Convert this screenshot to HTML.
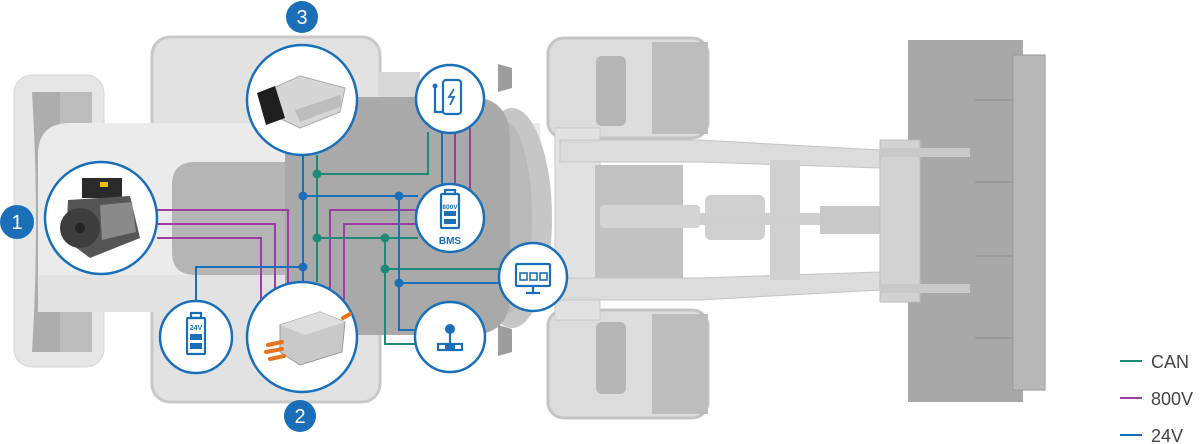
<!DOCTYPE html>
<html><head><meta charset="utf-8"><style>
html,body{margin:0;padding:0;background:#fff;}
svg{display:block;}
text{font-family:"Liberation Sans",sans-serif;}
</style></head><body>
<svg width="1200" height="444" viewBox="0 0 1200 444" xmlns="http://www.w3.org/2000/svg">
<!-- counterweight -->
<rect x="14" y="75" width="90" height="292" rx="18" fill="#e6e6e6" stroke="#d6d6d6"/>
<path d="M32 92 H92 V352 H32 Q40 222 32 92Z" fill="#adadad"/>
<rect x="60" y="92" width="32" height="260" fill="#bcbcbc"/>
<!-- fenders -->
<rect x="152" y="37" width="228" height="110" rx="18" fill="#e2e2e2" stroke="#c8c8c8" stroke-width="3"/>
<rect x="152" y="290" width="228" height="112" rx="18" fill="#e2e2e2" stroke="#c8c8c8" stroke-width="3"/>
<rect x="378" y="72" width="42" height="30" fill="#d8d8d8"/>
<!-- body -->
<path d="M70 123 H540 V312 H70 Q38 312 38 280 V155 Q38 123 70 123Z" fill="#ebebeb"/>
<rect x="38" y="275" width="320" height="37" fill="#e2e2e2"/>
<ellipse cx="512" cy="218" rx="40" ry="110" fill="#c6c6c6"/>
<ellipse cx="505" cy="218" rx="27" ry="96" fill="#b9b9b9"/>
<!-- cab -->
<path d="M285 97 H470 Q510 97 510 140 V295 Q510 335 470 335 H285Z" fill="#a9a9a9"/>
<path d="M195 162 H285 V275 H195 Q172 275 172 252 V185 Q172 162 195 162Z" fill="#b5b5b5"/>
<path d="M498 64 L512 68 L512 88 L498 92Z" fill="#9d9d9d"/>
<path d="M498 325 L512 329 L512 352 L498 356Z" fill="#9d9d9d"/>
<!-- front frame -->
<rect x="548" y="38" width="160" height="100" rx="16" fill="#dcdcdc" stroke="#c4c4c4" stroke-width="3"/>
<rect x="548" y="310" width="160" height="108" rx="16" fill="#dcdcdc" stroke="#c4c4c4" stroke-width="3"/>
<rect x="652" y="42" width="56" height="92" fill="#bdbdbd"/>
<rect x="652" y="314" width="56" height="100" fill="#bdbdbd"/>
<rect x="596" y="56" width="30" height="70" rx="6" fill="#b6b6b6"/>
<rect x="596" y="322" width="30" height="72" rx="6" fill="#b6b6b6"/>
<rect x="555" y="128" width="45" height="192" fill="#e2e2e2" stroke="#c9c9c9"/>
<rect x="595" y="165" width="88" height="120" fill="#c2c2c2"/>
<rect x="600" y="205" width="100" height="23" rx="4" fill="#d4d4d4"/>
<path d="M560 140 H700 L880 150 V168 L700 162 H560Z" fill="#dcdcdc" stroke="#c4c4c4"/>
<path d="M560 278 H700 L880 272 V290 L700 300 H560Z" fill="#dcdcdc" stroke="#c4c4c4"/>
<rect x="770" y="160" width="30" height="120" fill="#d0d0d0"/>
<rect x="705" y="195" width="60" height="45" rx="6" fill="#d0d0d0"/>
<rect x="700" y="213" width="195" height="12" fill="#cfcfcf"/>
<rect x="820" y="206" width="60" height="28" fill="#c8c8c8"/>
<!-- bucket -->
<rect x="908" y="40" width="115" height="362" fill="#a8a8a8"/>
<rect x="1013" y="55" width="32" height="335" fill="#b8b8b8" stroke="#9a9a9a"/>
<g stroke="#9a9a9a" stroke-width="2"><line x1="975" y1="100" x2="1013" y2="100"/><line x1="975" y1="182" x2="1013" y2="182"/><line x1="975" y1="256" x2="1013" y2="256"/><line x1="975" y1="338" x2="1013" y2="338"/></g>
<rect x="880" y="140" width="40" height="162" fill="#d2d2d2" stroke="#bcbcbc"/>
<rect x="880" y="148" width="90" height="9" fill="#c9c9c9"/>
<rect x="880" y="284" width="90" height="9" fill="#c9c9c9"/>
<!-- connectors -->
<g fill="none" stroke-width="2">
<g stroke="#9a3ea3">
<path d="M157 210 H288 V300"/><path d="M157 224 H275 V300"/><path d="M157 238 H261 V310"/>
<path d="M418 210 H330 V300"/><path d="M418 224 H344 V300"/>
<path d="M455 133 V186"/><path d="M470 128 V190"/>
</g>
<g stroke="#1f8a78">
<path d="M317 155 V282"/><path d="M317 174 H428 V132"/>
<path d="M317 238 H418"/><path d="M385 238 V344 H418"/><path d="M385 269 H499"/>
</g>
<g stroke="#1a6fb8">
<path d="M303 155 V282"/><path d="M442 133 V186"/>
<path d="M303 196 H418"/><path d="M399 196 V330 H418"/><path d="M399 283 H499"/>
<path d="M303 267 H196 V302"/>
</g>
</g>
<g fill="#1f8a78"><circle cx="317" cy="174" r="4.5"/><circle cx="317" cy="238" r="4.5"/><circle cx="385" cy="238" r="4.5"/><circle cx="385" cy="269" r="4.5"/></g>
<g fill="#1a6fb8"><circle cx="303" cy="196" r="4.5"/><circle cx="303" cy="267" r="4.5"/><circle cx="399" cy="196" r="4.5"/><circle cx="399" cy="283" r="4.5"/></g>
<!-- circles -->
<g fill="#fff" stroke="#1a6fb8" stroke-width="2.5">
<circle cx="101" cy="218" r="56"/>
<circle cx="302" cy="100" r="55"/>
<circle cx="302" cy="337" r="55"/>
<circle cx="196" cy="337" r="36"/>
<circle cx="450" cy="99" r="34"/>
<circle cx="450" cy="218" r="34"/>
<circle cx="533" cy="277" r="34"/>
<circle cx="450" cy="337" r="35"/>
</g>
<g>
<rect x="82" y="178" width="40" height="20" fill="#2a2a2a"/>
<rect x="100" y="182" width="8" height="5" fill="#e6c200"/>
<path d="M68 200 L130 196 L140 238 L90 258 L66 240Z" fill="#555"/>
<circle cx="80" cy="228" r="20" fill="#3d3d3d"/>
<circle cx="80" cy="228" r="5" fill="#222"/>
<path d="M100 205 L132 202 L136 232 L102 240Z" fill="#8a8a8a"/>
</g>
<g>
<path d="M262 93 L300 76 L345 88 L340 112 L300 128 L262 110Z" fill="#d6d6d6" stroke="#aaa"/>
<path d="M257 93 L275 86 L285 118 L266 125Z" fill="#1e1e1e"/>
<path d="M295 110 L340 95 L342 106 L300 122Z" fill="#bdbdbd"/>
</g>
<g>
<path d="M280 325 L320 312 L345 322 L342 352 L300 365 L280 352Z" fill="#c9c9c9" stroke="#999"/>
<path d="M280 325 L320 312 L345 322 L305 335Z" fill="#dedede"/>
<g stroke="#e8731e" stroke-width="4" stroke-linecap="round"><line x1="268" y1="345" x2="282" y2="342"/><line x1="266" y1="352" x2="282" y2="349"/><line x1="270" y1="359" x2="284" y2="356"/><line x1="343" y1="318" x2="350" y2="314"/></g>
</g>
<g fill="none" stroke="#1a6fb8" stroke-width="2.2">
<rect x="443" y="80" width="18" height="34" rx="3"/>
<path d="M454 89 L449 97 H454 L450 105" stroke-width="1.8"/>
<path d="M435 94 V112 H443"/><path d="M435 88 V94"/>
<rect x="441" y="194" width="18" height="34" rx="1"/>
<rect x="445" y="190" width="10" height="4"/>
<rect x="187" y="318" width="18" height="36" rx="1"/>
<rect x="191" y="313" width="10" height="5"/>
<rect x="516" y="264" width="34" height="22" rx="1"/>
<path d="M533 286 V292 M526 293 H540"/>
<rect x="520" y="273" width="7" height="7" stroke-width="1.6"/><rect x="530" y="273" width="7" height="7" stroke-width="1.6"/><rect x="540" y="273" width="7" height="7" stroke-width="1.6"/>
<rect x="438" y="344" width="24" height="6"/>
<path d="M450 333 V344"/>
</g>
<g fill="#1a6fb8">
<circle cx="435" cy="86" r="2.5"/>
<rect x="444" y="211" width="12" height="5"/><rect x="444" y="219" width="12" height="5"/>
<rect x="190" y="334" width="12" height="6"/><rect x="190" y="343" width="12" height="6"/>
<circle cx="450" cy="329" r="5"/>
<rect x="445" y="345" width="10" height="4"/>
</g>
<text x="450" y="209" font-size="6.5" font-weight="bold" fill="#1a6fb8" text-anchor="middle">800V</text>
<text x="450" y="244" font-size="10" font-weight="bold" fill="#1a6fb8" text-anchor="middle">BMS</text>
<text x="196" y="330" font-size="7" font-weight="bold" fill="#1a6fb8" text-anchor="middle">24V</text>
<g fill="#1a6fb8"><circle cx="302" cy="17" r="16"/><circle cx="17" cy="222" r="17"/><circle cx="300" cy="416" r="16"/></g>
<g fill="#fff" font-size="20" text-anchor="middle"><text x="302" y="24">3</text><text x="17" y="229">1</text><text x="300" y="423">2</text></g>
<g stroke-width="2"><line x1="1120" y1="361" x2="1142" y2="361" stroke="#1f8a78"/><line x1="1120" y1="398" x2="1142" y2="398" stroke="#9a3ea3"/><line x1="1120" y1="435" x2="1142" y2="435" stroke="#1a6fb8"/></g>
<g fill="#444" font-size="18"><text x="1151" y="368">CAN</text><text x="1151" y="405">800V</text><text x="1151" y="442">24V</text></g>
</svg>
</body></html>
